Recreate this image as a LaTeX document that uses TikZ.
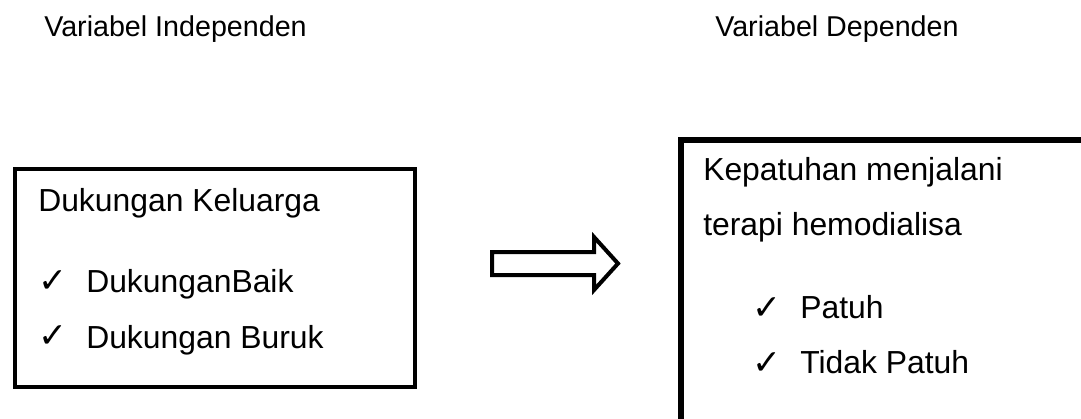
\documentclass[tikz,border=0pt]{standalone}
\usepackage{fontspec}
\setmainfont{Liberation Sans}
\newfontfamily\symfont{DejaVu Sans}
\begin{document}
\begin{tikzpicture}[x=0.75pt,y=-0.75pt,
  heading/.style={anchor=base west,inner sep=0pt,font=\fontsize{21.5pt}{25pt}\selectfont},
  boxtext/.style={anchor=base west,inner sep=0pt,font=\fontsize{23.9pt}{28pt}\selectfont},
  tick/.style={anchor=base west,inner sep=0pt,font=\symfont\fontsize{26pt}{30pt}\selectfont},
  framebox/.style={draw=black,line width=3pt},
  bigarrow/.style={draw=black,line width=3pt,fill=white,line join=miter}]
\useasboundingbox (0,0) rectangle (1081,418);
\clip (0,0) rectangle (1081,418);
% headings
\node[heading] (hind) at (44,36) {Variabel Independen};
\node[heading] (hdep) at (715,36) {Variabel Dependen};
% left box
\draw[framebox] (15,169) rectangle (415,387);
\node[boxtext] (l1) at (38,211) {Dukungan Keluarga};
\node[tick] (t1) at (38,292) {✓};
\node[boxtext] (l2) at (86,292) {DukunganBaik};
\node[tick] (t2) at (38,347) {✓};
\node[boxtext] (l3) at (86,348) {Dukungan Buruk};
% right box (runs off the page to the right and bottom)
\draw[framebox,line width=4pt] (681,140) rectangle (1120,460);
\node[boxtext] (r1) at (703,180) {Kepatuhan menjalani};
\node[boxtext] (r2) at (703,235) {terapi hemodialisa};
\node[tick] (t3) at (752,319) {✓};
\node[boxtext] (r3) at (800,318) {Patuh};
\node[tick] (t4) at (752,374) {✓};
\node[boxtext] (r4) at (800,373) {Tidak Patuh};
% block arrow
\draw[bigarrow] (492,252) -- (594,252) -- (594,237) -- (618,263.5) -- (594,290) -- (594,275) -- (492,275) -- cycle;
\end{tikzpicture}
\end{document}
